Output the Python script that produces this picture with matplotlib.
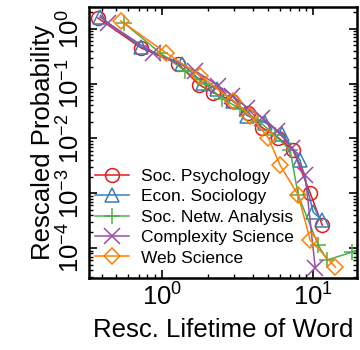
import matplotlib
matplotlib.use('Agg')
import matplotlib.pyplot as plt

plt.rcParams['font.family'] = ['Liberation Sans', 'DejaVu Sans']
plt.rcParams['mathtext.fontset'] = 'custom'
plt.rcParams['mathtext.rm'] = 'Liberation Sans'
plt.rcParams['mathtext.it'] = 'Liberation Sans:italic'
plt.rcParams['mathtext.bf'] = 'Liberation Sans:bold'

# rescaled lifetime / probability per community
psy_x = [0.377, 0.726, 1.276, 1.758, 2.176, 2.909, 3.715, 4.594, 5.864, 7.374, 9.55, 11.47]
psy_y = [1.585, 0.451, 0.231, 0.0959, 0.0686, 0.0491, 0.0297, 0.0158, 0.0104, 0.00605, 0.001, 0.000262]

eco_x = [0.389, 0.726, 1.357, 1.868, 2.313, 2.951, 3.655, 4.81, 6.235, 8.20, 10.0, 11.47]
eco_y = [1.652, 0.471, 0.231, 0.104, 0.0811, 0.0491, 0.0262, 0.0195, 0.0123, 0.00398, 0.000451, 0.000323]

sna_x = [0.560, 0.970, 1.420, 1.927, 2.496, 3.286, 4.323, 5.60, 7.04, 7.955, 10.79, 12.38, 18.12, 23.14]
sna_y = [1.286, 0.366, 0.172, 0.1, 0.0534, 0.0351, 0.0212, 0.01134, 0.00605, 0.00092, 0.000113, 6.05e-5, 8.46e-5, 0.000113]

cpx_x = [0.439, 0.872, 1.654, 2.349, 2.909, 3.655, 4.594, 5.775, 7.26, 8.85, 10.31]
cpx_y = [1.286, 0.366, 0.172, 0.092, 0.0605, 0.0366, 0.0241, 0.01397, 0.00658, 0.00212, 4.33e-5]

web_x = [0.535, 1.063, 1.785, 2.951, 3.825, 5.035, 6.046, 7.955, 9.55, 13.99]
web_y = [1.398, 0.366, 0.1398, 0.0491, 0.0262, 0.0104, 0.00323, 0.00092, 0.00014, 4.51e-5]

series = [
    ('Soc. Psychology', psy_x, psy_y, '#e41a1c', 'o'),
    ('Econ. Sociology', eco_x, eco_y, '#377eb8', '^'),
    ('Soc. Netw. Analysis', sna_x, sna_y, '#4daf4a', '+'),
    ('Complexity Science', cpx_x, cpx_y, '#984ea3', 'x'),
    ('Web Science', web_x, web_y, '#ff7f00', 'D'),
]

fig = plt.figure(figsize=(3.6, 3.5), dpi=100)
ax = fig.add_axes([0.247, 0.206, 0.745, 0.774])

for name, xs, ys, col, mk in series:
    ms = 8 if mk == 'D' else 10
    if mk in ('+', 'x'):
        ms = 12
    ax.plot(xs, ys, color=col, marker=mk, markersize=ms, markerfacecolor='none',
            markeredgecolor=col, markeredgewidth=1.1, linewidth=1.1, label=name)

ax.set_xscale('log')
ax.set_yscale('log')
ax.set_xlim(0.329, 19.5)
ax.set_ylim(2.85e-5, 2.51)

ax.set_xlabel('Resc. Lifetime of Word', fontsize=18.5, labelpad=5)
ax.set_ylabel('Rescaled Probability', fontsize=18.5, labelpad=2)

ax.tick_params(which='both', direction='in', top=True, right=True, labelsize=18.5)
ax.tick_params(which='major', length=6, width=1.2)
ax.tick_params(which='minor', length=3, width=1.0)
ax.tick_params(axis='y', labelrotation=90, pad=3)
ax.tick_params(axis='x', pad=4)
for lab in ax.get_yticklabels():
    lab.set_va('center')
ax.set_yticks([1e-4, 1e-3, 1e-2, 1e-1, 1])
for s in ax.spines.values():
    s.set_linewidth(1.8)

ax.legend(loc='lower left', frameon=False, fontsize=12.5, handlelength=2.0,
          labelspacing=0.3, borderaxespad=0.0, handletextpad=0.7,
          bbox_to_anchor=(-0.005, 0.02))

fig.savefig('out.png', dpi=100)
